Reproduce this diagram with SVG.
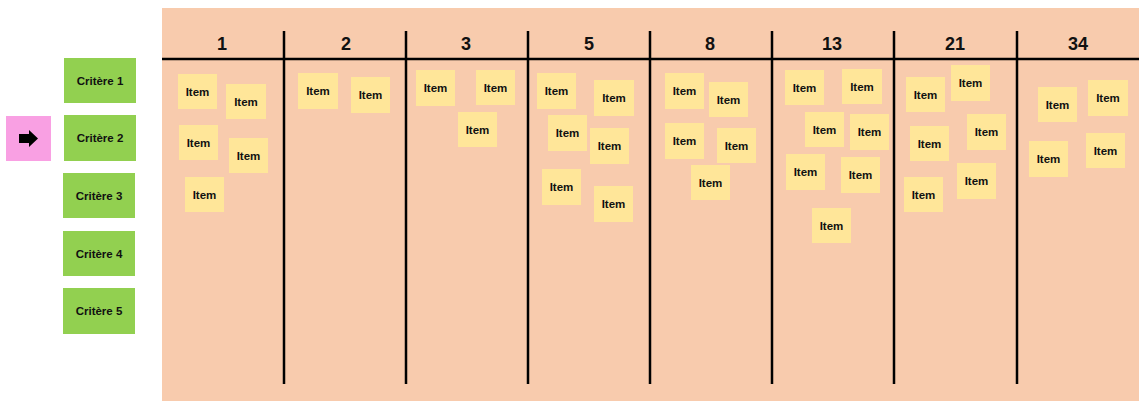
<svg xmlns="http://www.w3.org/2000/svg" width="1146" height="411" viewBox="0 0 1146 411">
<style>
.bg{fill:#F8CBAD}
.ln{stroke:#000;stroke-width:2.5;fill:none}
.hd{font-family:"Liberation Sans",Arial,sans-serif;font-weight:bold;font-size:18px;fill:#111;text-anchor:middle}
.st{fill:#FFE699}
.it{font-family:"Liberation Sans",Arial,sans-serif;font-weight:bold;font-size:11.5px;fill:#111;text-anchor:middle;dominant-baseline:central}
.cr{fill:#92D050}
.ct{font-family:"Liberation Sans",Arial,sans-serif;font-weight:bold;font-size:11.5px;fill:#111;text-anchor:middle;dominant-baseline:central}
</style>
<rect width="1146" height="411" fill="#fff"/>
<g id="board">
<rect class="bg" x="162" y="8" width="977" height="393"/>
</g>
<g id="connectors">
<line class="ln" x1="162" y1="59" x2="1139" y2="59"/>
<line class="ln" x1="284" y1="31" x2="284" y2="384"/>
<line class="ln" x1="406" y1="31" x2="406" y2="384"/>
<line class="ln" x1="528" y1="31" x2="528" y2="384"/>
<line class="ln" x1="650" y1="31" x2="650" y2="384"/>
<line class="ln" x1="772" y1="31" x2="772" y2="384"/>
<line class="ln" x1="894" y1="31" x2="894" y2="384"/>
<line class="ln" x1="1017" y1="31" x2="1017" y2="384"/>
</g>
<g id="headers">
<text class="hd" x="222" y="50">1</text>
<text class="hd" x="346" y="50">2</text>
<text class="hd" x="466" y="50">3</text>
<text class="hd" x="589" y="50">5</text>
<text class="hd" x="710" y="50">8</text>
<text class="hd" x="832" y="50">13</text>
<text class="hd" x="955" y="50">21</text>
<text class="hd" x="1078" y="50">34</text>
</g>
<g id="pink-arrow">
<rect x="6" y="116" width="45" height="45" fill="#F9A0E3"/>
<polygon points="19,134 29,134 29,130 38,138.5 29,147 29,143 19,143" fill="#000"/>
</g>
<g id="critere-1"><rect class="cr" x="64" y="58" width="72" height="45"/><text class="ct" x="100" y="80.5">Critère 1</text></g>
<g id="critere-2"><rect class="cr" x="64" y="115" width="72" height="46"/><text class="ct" x="100" y="138">Critère 2</text></g>
<g id="critere-3"><rect class="cr" x="63" y="173" width="72" height="45"/><text class="ct" x="99" y="195.5">Critère 3</text></g>
<g id="critere-4"><rect class="cr" x="63" y="231" width="72" height="45"/><text class="ct" x="99" y="253.5">Critère 4</text></g>
<g id="critere-5"><rect class="cr" x="63" y="288" width="72" height="46"/><text class="ct" x="99" y="311">Critère 5</text></g>
<g id="col1-item1"><rect class="st" x="178" y="74" width="39" height="35"/><text class="it" x="197.5" y="91.5">Item</text></g>
<g id="col1-item2"><rect class="st" x="226" y="84" width="40" height="35"/><text class="it" x="246" y="101.5">Item</text></g>
<g id="col1-item3"><rect class="st" x="179" y="125" width="39" height="35"/><text class="it" x="198.5" y="142.5">Item</text></g>
<g id="col1-item4"><rect class="st" x="229" y="138" width="39" height="35"/><text class="it" x="248.5" y="155.5">Item</text></g>
<g id="col1-item5"><rect class="st" x="185" y="177" width="39" height="35"/><text class="it" x="204.5" y="194.5">Item</text></g>
<g id="col2-item1"><rect class="st" x="298" y="73" width="40" height="36"/><text class="it" x="318" y="91">Item</text></g>
<g id="col2-item2"><rect class="st" x="351" y="77" width="39" height="36"/><text class="it" x="370.5" y="95">Item</text></g>
<g id="col3-item1"><rect class="st" x="416" y="70" width="39" height="36"/><text class="it" x="435.5" y="88">Item</text></g>
<g id="col3-item2"><rect class="st" x="476" y="70" width="39" height="35"/><text class="it" x="495.5" y="87.5">Item</text></g>
<g id="col3-item3"><rect class="st" x="458" y="112" width="39" height="35"/><text class="it" x="477.5" y="129.5">Item</text></g>
<g id="col5-item1"><rect class="st" x="537" y="73" width="39" height="36"/><text class="it" x="556.5" y="91">Item</text></g>
<g id="col5-item2"><rect class="st" x="594" y="80" width="40" height="36"/><text class="it" x="614" y="98">Item</text></g>
<g id="col5-item3"><rect class="st" x="548" y="115" width="39" height="36"/><text class="it" x="567.5" y="133">Item</text></g>
<g id="col5-item4"><rect class="st" x="590" y="128" width="39" height="36"/><text class="it" x="609.5" y="146">Item</text></g>
<g id="col5-item5"><rect class="st" x="542" y="169" width="39" height="36"/><text class="it" x="561.5" y="187">Item</text></g>
<g id="col5-item6"><rect class="st" x="594" y="186" width="39" height="36"/><text class="it" x="613.5" y="204">Item</text></g>
<g id="col8-item1"><rect class="st" x="665" y="73" width="39" height="36"/><text class="it" x="684.5" y="91">Item</text></g>
<g id="col8-item2"><rect class="st" x="709" y="82" width="39" height="35"/><text class="it" x="728.5" y="99.5">Item</text></g>
<g id="col8-item3"><rect class="st" x="665" y="123" width="39" height="36"/><text class="it" x="684.5" y="141">Item</text></g>
<g id="col8-item4"><rect class="st" x="717" y="128" width="39" height="35"/><text class="it" x="736.5" y="145.5">Item</text></g>
<g id="col8-item5"><rect class="st" x="691" y="165" width="39" height="35"/><text class="it" x="710.5" y="182.5">Item</text></g>
<g id="col13-item1"><rect class="st" x="785" y="70" width="39" height="35"/><text class="it" x="804.5" y="87.5">Item</text></g>
<g id="col13-item2"><rect class="st" x="842" y="69" width="40" height="35"/><text class="it" x="862" y="86.5">Item</text></g>
<g id="col13-item3"><rect class="st" x="805" y="112" width="39" height="35"/><text class="it" x="824.5" y="129.5">Item</text></g>
<g id="col13-item4"><rect class="st" x="850" y="114" width="39" height="36"/><text class="it" x="869.5" y="132">Item</text></g>
<g id="col13-item5"><rect class="st" x="786" y="154" width="39" height="36"/><text class="it" x="805.5" y="172">Item</text></g>
<g id="col13-item6"><rect class="st" x="841" y="157" width="39" height="36"/><text class="it" x="860.5" y="175">Item</text></g>
<g id="col13-item7"><rect class="st" x="812" y="208" width="39" height="35"/><text class="it" x="831.5" y="225.5">Item</text></g>
<g id="col21-item1"><rect class="st" x="906" y="77" width="39" height="35"/><text class="it" x="925.5" y="94.5">Item</text></g>
<g id="col21-item2"><rect class="st" x="951" y="65" width="39" height="36"/><text class="it" x="970.5" y="83">Item</text></g>
<g id="col21-item3"><rect class="st" x="910" y="126" width="39" height="35"/><text class="it" x="929.5" y="143.5">Item</text></g>
<g id="col21-item4"><rect class="st" x="967" y="114" width="39" height="36"/><text class="it" x="986.5" y="132">Item</text></g>
<g id="col21-item5"><rect class="st" x="904" y="177" width="39" height="35"/><text class="it" x="923.5" y="194.5">Item</text></g>
<g id="col21-item6"><rect class="st" x="957" y="163" width="39" height="36"/><text class="it" x="976.5" y="181">Item</text></g>
<g id="col34-item1"><rect class="st" x="1038" y="87" width="39" height="35"/><text class="it" x="1057.5" y="104.5">Item</text></g>
<g id="col34-item2"><rect class="st" x="1088" y="80" width="40" height="36"/><text class="it" x="1108" y="98">Item</text></g>
<g id="col34-item3"><rect class="st" x="1029" y="141" width="39" height="36"/><text class="it" x="1048.5" y="159">Item</text></g>
<g id="col34-item4"><rect class="st" x="1086" y="133" width="39" height="35"/><text class="it" x="1105.5" y="150.5">Item</text></g>
</svg>
